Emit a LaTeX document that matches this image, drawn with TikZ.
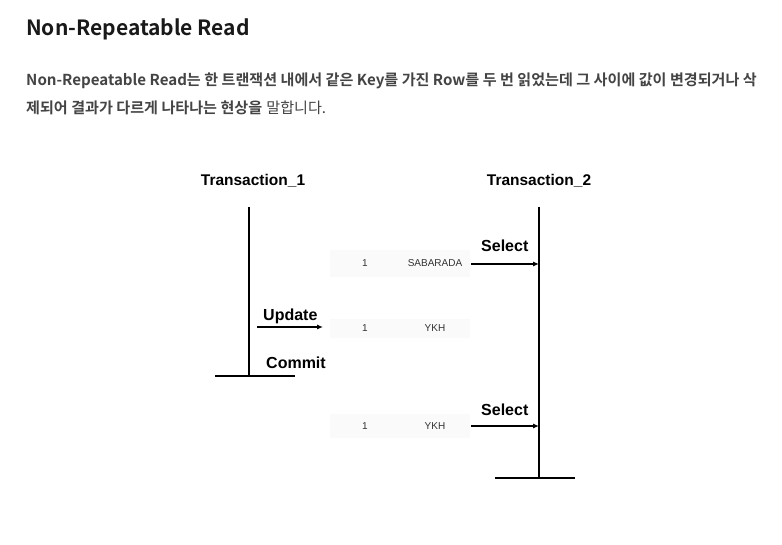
\documentclass[tikz,border=0pt]{standalone}
\usepackage{fontspec}
\setmainfont{Liberation Sans}
\newfontfamily\krfont{Noto Sans CJK KR}
\newfontfamily\krbold{Noto Sans CJK KR Bold}
\usetikzlibrary{arrows.meta}
\definecolor{bodygray}{HTML}{444444}
\definecolor{bandgray}{HTML}{FAFAFA}
\definecolor{rowtext}{HTML}{333333}
\tikzset{
  lifeline/.style={line width=1.2pt, black},
  msg/.style={line width=1.1pt, -{Latex[length=6pt,width=5pt]}},
  txlabel/.style={font=\fontsize{15.5}{17}\selectfont\bfseries, inner sep=0pt, anchor=base},
  oplabel/.style={font=\fontsize{16}{18}\selectfont\bfseries, inner sep=0pt, anchor=base west},
  band/.style={fill=bandgray, draw=none},
  rowcell/.style={font=\fontsize{10}{11}\selectfont, text=rowtext, inner sep=0pt},
}
\begin{document}
\begin{tikzpicture}[x=1pt,y=-1pt]
\useasboundingbox[fill=white] (0,0) rectangle (782,545);
% heading and paragraph
\node[anchor=base west, inner sep=0pt, font=\krbold\fontsize{21}{24}\selectfont, text=black!90] (title) at (26,36) {Non-Repeatable Read};
\node[anchor=base west, inner sep=0pt, font=\krbold\fontsize{15.1}{17}\selectfont, text=bodygray] (para1) at (26,86)
  {Non-Repeatable Read는 한 트랜잭션 내에서 같은 Key를 가진 Row를 두 번 읽었는데 그 사이에 값이 변경되거나 삭};
\node[anchor=base west, inner sep=0pt, font=\fontsize{15.1}{17}\selectfont, text=bodygray] (para2) at (26,114)
  {{\krbold 제되어 결과가 다르게 나타나는 현상을} {\krfont 말합니다.}};
% transaction headers
\node[txlabel] (t1) at (253,186) {Transaction\_1};
\node[txlabel] (t2) at (539,186) {Transaction\_2};
% lifelines
\coordinate (l1top) at (249,207);
\coordinate (l1bot) at (249,376);
\coordinate (l1a) at (215,376);
\coordinate (l1b) at (295,376);
\coordinate (l2top) at (539,207);
\coordinate (l2bot) at (539,478);
\coordinate (l2a) at (495,478);
\coordinate (l2b) at (575,478);
\draw[lifeline] (l1top) -- (l1bot);
\draw[lifeline] (l1a) -- (l1b);
\draw[lifeline] (l2top) -- (l2bot);
\draw[lifeline] (l2a) -- (l2b);
% row bands
\fill[band] (330,250) rectangle (470,277);
\fill[band] (330,319) rectangle (470,338);
\fill[band] (330,414) rectangle (470,438);
\node[rowcell] (r1k) at (365,263) {1};
\node[rowcell] (r1v) at (435,263) {SABARADA};
\node[rowcell] (r2k) at (365,328) {1};
\node[rowcell] (r2v) at (435,328) {YKH};
\node[rowcell] (r3k) at (365,426) {1};
\node[rowcell] (r3v) at (435,426) {YKH};
% operations
\node[oplabel] (sel1) at (481,252) {Select};
\coordinate (s1a) at (471,264);
\coordinate (s1b) at (539,264);
\draw[msg] (s1a) -- (s1b);
\node[oplabel] (upd) at (263,321) {Update};
\coordinate (ua) at (257,327);
\coordinate (ub) at (323,327);
\draw[msg] (ua) -- (ub);
\node[oplabel] (com) at (266,369) {Commit};
\node[oplabel] (sel2) at (481,415) {Select};
\coordinate (s2a) at (471,426);
\coordinate (s2b) at (539,426);
\draw[msg] (s2a) -- (s2b);
\end{tikzpicture}
\end{document}
